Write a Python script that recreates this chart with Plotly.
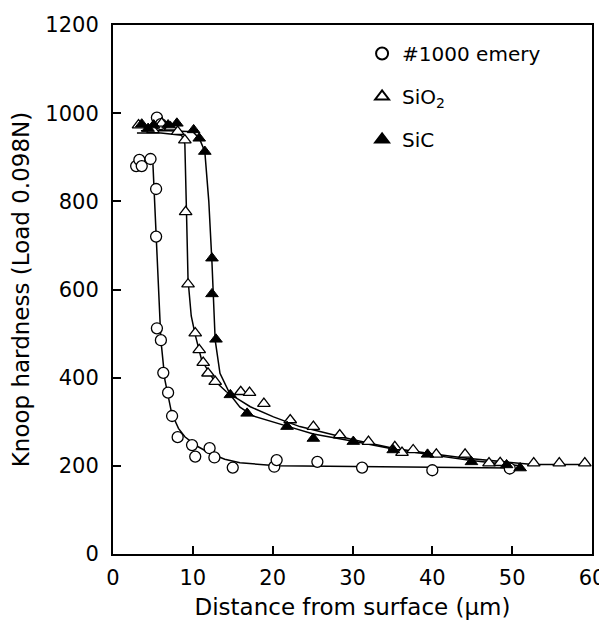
import plotly.graph_objects as go

# measured points (distance um, Knoop hardness)
emery_x = [2.9, 3.3, 3.6, 4.7, 5.5, 6.0, 5.4, 5.4, 5.5, 6.0, 6.3, 6.9, 7.4, 8.1, 9.9, 10.3,
           12.1, 12.7, 15.0, 20.2, 20.5, 25.6, 31.2, 40.0, 49.7]
emery_y = [880, 894, 880, 896, 990, 975, 828, 720, 512, 485, 411, 366, 313, 265, 247, 221,
           240, 219, 196, 198, 213, 209, 196, 190, 194]

sio2_x = [3.2, 5.0, 6.1, 7.2, 8.1, 9.0, 9.1, 9.4, 10.3, 10.8, 11.3, 11.9, 12.8, 16.0, 17.1,
          18.9, 22.2, 25.1, 28.4, 32.0, 35.3, 36.2, 37.6, 40.5, 44.1, 47.1, 48.5, 52.7, 55.9, 59.1]
sio2_y = [973, 962, 977, 968, 958, 939, 776, 612, 501, 463, 434, 410, 391, 368, 366,
          341, 304, 289, 270, 255, 243, 230, 236, 226, 226, 206, 207, 206, 206, 206]

sic_x = [3.6, 4.4, 5.1, 6.9, 8.0, 10.1, 10.8, 11.5, 12.4, 12.4, 12.9, 14.7, 16.8, 21.8, 25.1,
         30.1, 35.1, 39.4, 44.9, 49.3, 51.0]
sic_y = [975, 965, 973, 973, 977, 962, 943, 913, 671, 590, 487, 361, 319, 289, 262,
         255, 236, 226, 209, 202, 195]

# fitted curves
emery_fit_x = [5.0, 5.3, 5.7, 6.0, 6.5, 7.35, 8.2, 9.0, 10.5, 12.2, 14.0, 15.9, 20.5, 30, 40, 50]
emery_fit_y = [885, 760, 622, 485, 395, 319, 285, 266, 245, 228, 215, 207, 200, 198, 196, 195]

sio2_fit_x = [3.0, 6.0, 8.6, 9.0, 9.2, 9.4, 9.8, 10.3, 11.1, 12.6, 14.2, 17.2, 20.1, 23.4,
              30.1, 35.1, 39.7, 44.3, 52.6, 59.7]
sio2_fit_y = [955, 955, 950, 930, 780, 622, 540, 497, 440, 395, 368, 334, 311, 289,
              259, 240, 228, 217, 203, 203]

sic_fit_x = [3.5, 7.0, 10.0, 10.8, 11.5, 12.0, 12.4, 12.6, 12.8, 13.4, 14.7, 15.9, 17.6, 22.0,
             25.1, 30.1, 35.1, 39.4, 44.9, 51.0]
sic_fit_y = [960, 960, 958, 943, 913, 800, 660, 580, 485, 410, 361, 333, 313, 289,
             272, 256, 238, 226, 212, 200]

FONT = "DejaVu Sans"

fig = go.Figure()

# curves first, markers on top
for fx, fy in [(emery_fit_x, emery_fit_y), (sio2_fit_x, sio2_fit_y), (sic_fit_x, sic_fit_y)]:
    fig.add_trace(go.Scatter(x=fx, y=fy, mode="lines",
                             line=dict(color="black", width=1.5), showlegend=False))

fig.add_trace(go.Scatter(x=emery_x, y=emery_y, mode="markers", name="#1000 emery",
                         legendgroup="a",
                         marker=dict(symbol="circle", size=11, color="white",
                                     line=dict(color="black", width=1.3))))
fig.add_trace(go.Scatter(x=sio2_x, y=sio2_y, mode="markers", name="SiO<sub>2</sub>",
                         legendgroup="b",
                         marker=dict(symbol="triangle-up", size=11, color="white",
                                     line=dict(color="black", width=1.3))))
fig.add_trace(go.Scatter(x=sic_x, y=sic_y, mode="markers", name="SiC",
                         legendgroup="c",
                         marker=dict(symbol="triangle-up", size=11, color="black",
                                     line=dict(color="black", width=1))))

axis_common = dict(showline=True, linecolor="black", linewidth=2, mirror=True,
                   ticks="inside", ticklen=8, tickwidth=1.5, tickcolor="black",
                   showgrid=False, zeroline=False, automargin=False,
                   tickfont=dict(family=FONT, size=21, color="black"))

fig.update_xaxes(range=[0, 60], dtick=10, ticklabelstandoff=4,
                 title=dict(text="Distance from surface (μm)", standoff=11,
                            font=dict(family=FONT, size=23, color="black")),
                 **axis_common)
fig.update_yaxes(range=[0, 1200], dtick=200, ticklabelstandoff=8,
                 title=dict(text="Knoop hardness (Load 0.098N)", standoff=10,
                            font=dict(family=FONT, size=23, color="black")),
                 **axis_common)

# page body adds an 8px margin, so the figure is 8px smaller than the window
fig.update_layout(width=599, height=612,
                  plot_bgcolor="white", paper_bgcolor="white",
                  legend=dict(x=0.52, y=0.983, xanchor="left", yanchor="top",
                              bgcolor="rgba(0,0,0,0)", tracegroupgap=14,
                              itemsizing="constant",
                              font=dict(family=FONT, size=20, color="black")),
                  margin=dict(l=105, r=15, t=17, b=66))

fig.write_html("out.html")
